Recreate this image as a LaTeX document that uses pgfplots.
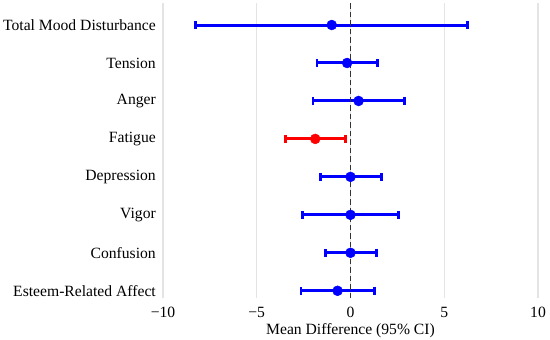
\documentclass[border=0pt]{standalone}
\usepackage{pgfplots}
\pgfplotsset{compat=1.18}
\usepackage{pgfplotstable}
\usepackage{fontspec}
\setmainfont{Liberation Serif}

\pgfplotstableread{
y x em ep
7 -1.00 7.25 7.24
6 -0.18 1.61 1.64
5 0.43 2.43 2.45
3 0.00 1.62 1.67
2 0.00 2.56 2.56
1 0.00 1.35 1.39
0 -0.69 1.95 1.96
}\bluedata
\pgfplotstableread{
y x em ep
4 -1.88 1.60 1.63
}\reddata

\begin{document}
\begin{tikzpicture}
\begin{axis}[
  name=ax,
  scale only axis,
  width=375bp, height=295bp,
  xmin=-10, xmax=10,
  ymin=-0.19, ymax=7.58,
  axis line style={draw=none},
  major tick length=0pt,
  xtick={-10,-5,0,5,10},
  xticklabels={−10,−5,0,5,10},
  ytick={0,1,2,3,4,5,6,7},
  yticklabels={Esteem-Related Affect,Confusion,Vigor,Depression,Fatigue,Anger,Tension,Total Mood Disturbance},
  xmajorgrids,
  major grid style={draw={rgb,255:red,228;green,228;blue,228}, line width=1.3bp},
  ticklabel style={font=\fontsize{15.7}{18}\selectfont, inner sep=0pt},
  yticklabel style={anchor=east, xshift=-7bp},
  xticklabel style={anchor=north, yshift=-9.3bp},
  xlabel={Mean Difference (95\% CI)},
  xlabel style={font=\fontsize{15.7}{18}\selectfont, at={(axis description cs:0.5,0)}, anchor=north, inner sep=0pt, yshift=-25.5bp},
  clip=false,
]
\addplot[blue, only marks, mark=*, mark size=5bp,
  error bars/.cd, x dir=both, x explicit, error mark=|,
  error bar style={line width=3bp, blue},
  error mark options={line width=2.8bp, mark size=4.1bp, blue}]
  table[x=x, y=y, x error minus=em, x error plus=ep]{\bluedata};
\addplot[red, only marks, mark=*, mark size=5bp,
  error bars/.cd, x dir=both, x explicit, error mark=|,
  error bar style={line width=3bp, red},
  error mark options={line width=2.8bp, mark size=4.1bp, red}]
  table[x=x, y=y, x error minus=em, x error plus=ep]{\reddata};
\addplot[black!80, line width=1.6bp, dash pattern=on 5.5bp off 3bp] coordinates {(0,-0.19) (0,7.58)};
\end{axis}
\pgfresetboundingbox
\useasboundingbox ([xshift=-163bp,yshift=-42bp]ax.south west) rectangle ([xshift=12bp,yshift=3bp]ax.north east);
\end{tikzpicture}
\end{document}
